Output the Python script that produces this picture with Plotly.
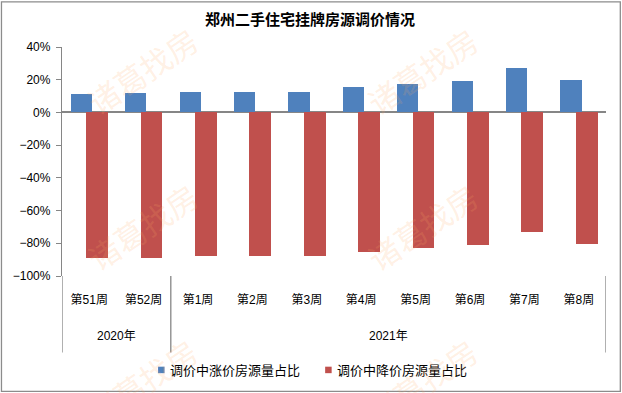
import plotly.graph_objects as go

# ---- data ----
weeks = ["第51周", "第52周", "第1周", "第2周", "第3周", "第4周", "第5周", "第6周", "第7周", "第8周"]
years = ["2020年", "2020年", "2021年", "2021年", "2021年", "2021年", "2021年", "2021年", "2021年", "2021年"]
rise_share = [0.112, 0.118, 0.124, 0.124, 0.124, 0.155, 0.173, 0.191, 0.271, 0.197]
fall_share = [-0.888, -0.888, -0.876, -0.876, -0.876, -0.853, -0.829, -0.811, -0.729, -0.805]
series_names = ["调价中涨价房源量占比", "调价中降价房源量占比"]
series_colors = ["#4F81BD", "#C0504D"]
title_text = "郑州二手住宅挂牌房源调价情况"
watermark = "诸葛找房"

W, H = 622, 393
L, R, T, B = 62, 605.7, 46.7, 276.0  # plot area in pixels
FONT = "Liberation Sans, Noto Sans CJK SC, sans-serif"
CJK = "Noto Sans CJK SC, sans-serif"

def px(x):
    return (x - L) / (R - L)

def py(y):
    return (B - y) / (B - T)

fig = go.Figure()
fig.add_trace(go.Bar(x=weeks, y=rise_share, name=series_names[0],
                     marker=dict(color=series_colors[0], line=dict(width=0)),
                     width=0.39, offset=-0.34, showlegend=False))
fig.add_trace(go.Bar(x=weeks, y=fall_share, name=series_names[1],
                     marker=dict(color=series_colors[1], line=dict(width=0)),
                     width=0.40, offset=-0.055, showlegend=False))

shapes = []
# group separators (derived from year groups)
bounds = [-0.5]
for i in range(1, len(years)):
    if years[i] != years[i - 1]:
        bounds.append(i - 0.5)
bounds.append(len(years) - 0.5)
for b in bounds:
    shapes.append(dict(type="line", xref="x", yref="paper", x0=b, x1=b,
                       y0=0, y1=py(352.5), line=dict(color="#868686", width=1.3)))
# outer border
shapes.append(dict(type="rect", xref="paper", yref="paper",
                   x0=px(1.5), x1=px(620), y0=py(1.5), y1=py(391.5),
                   line=dict(color="#8C8C8C", width=1.3), fillcolor="rgba(0,0,0,0)"))

annotations = []
# year group labels
groups = []
start = 0
for i in range(1, len(years) + 1):
    if i == len(years) or years[i] != years[start]:
        groups.append((years[start], (start + i - 1) / 2))
        start = i
for name, center in groups:
    annotations.append(dict(text=name, x=center, xref="x", y=py(336), yref="paper",
                            showarrow=False, font=dict(family=FONT, size=12, color="#000"),
                            xanchor="center", yanchor="middle"))

# legend (drawn manually to match the compact Excel-style spacing)
legend_x = [158, 325]
for lx, name, col in zip(legend_x, series_names, series_colors):
    shapes.append(dict(type="rect", xref="paper", yref="paper",
                       x0=px(lx), x1=px(lx + 6.5), y0=py(366.8), y1=py(373.3),
                       line=dict(width=0), fillcolor=col))
    annotations.append(dict(text=name, x=px(lx + 10), y=py(370), xref="paper", yref="paper",
                            showarrow=False, xanchor="left", yanchor="middle",
                            font=dict(family=CJK, size=13, color="#000")))

# watermarks
for cx in (142, 422):
    for cy in (70, 226, 382):
        annotations.append(dict(text=watermark, x=px(cx), y=py(cy), xref="paper", yref="paper",
                                showarrow=False, textangle=-34,
                                font=dict(family=CJK, size=31, color="rgba(255,170,100,0.18)"),
                                xanchor="center", yanchor="middle"))

fig.update_layout(
    width=W, height=H,
    margin=dict(l=L, r=W - R, t=T, b=H - B, pad=0),
    paper_bgcolor="white", plot_bgcolor="white",
    barmode="overlay",
    showlegend=False,
    title=dict(text="<b>" + title_text + "</b>", x=310 / W, xref="container", xanchor="center",
               y=1 - 20 / H, yref="container", yanchor="middle",
               font=dict(family=CJK, size=15, color="#000")),
    xaxis=dict(type="category", showgrid=False, showline=False, zeroline=False,
               ticks="outside", ticklen=13, tickcolor="rgba(0,0,0,0)",
               tickfont=dict(family=FONT, size=12, color="#000"),
               range=[-0.5, len(weeks) - 0.5], fixedrange=True),
    yaxis=dict(range=[-1.0, 0.4], dtick=0.2, tickformat=".0%", showgrid=False,
               showline=True, linecolor="#868686", linewidth=1.3,
               ticks="outside", ticklen=5, tickcolor="#868686",
               ticklabelstandoff=3,
               zeroline=True, zerolinecolor="#868686", zerolinewidth=1.5,
               tickfont=dict(family=FONT, size=12, color="#000")),
    shapes=shapes,
    annotations=annotations,
    bargap=0,
)

fig.write_html("out.html", config={"displayModeBar": False},
               post_script="document.body.style.margin='0';document.body.style.padding='0';")
